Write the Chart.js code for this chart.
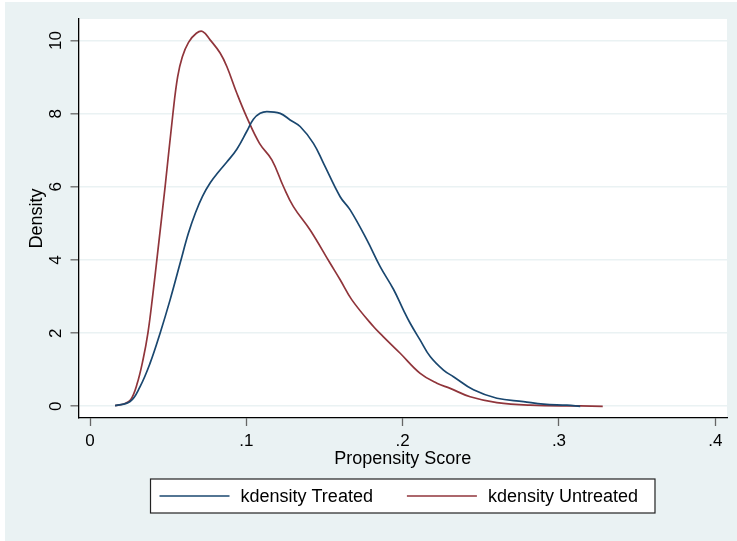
<!DOCTYPE html>
<html lang="en">

<head>
    <meta charset="UTF-8">
    <title>Propensity Score - kdensity</title>
    <script src="https://cdn.jsdelivr.net/npm/chart.js"></script>
</head>
<style>
    body {
        margin: 0;
        background-color: #FFFFFF;
    }

    canvas {
        display: block;
    }
</style>

<body>
    <canvas id="densityCanvas" width="737" height="541"></canvas>
</body>

</html>

<script>
    // kdensity do grupo tratado (x = propensity score, y = densidade)
    const treatedX = [0.016, 0.0256, 0.032, 0.0384, 0.0448, 0.0512, 0.0576, 0.0629, 0.0675, 0.072,
        0.077, 0.082, 0.0875, 0.0939, 0.1003, 0.1045, 0.1088, 0.1131, 0.1216, 0.128,
        0.1344, 0.1429, 0.1493, 0.16, 0.1664, 0.1771, 0.1856, 0.1941, 0.2005, 0.2048,
        0.2112, 0.2176, 0.2261, 0.2325, 0.2453, 0.2603, 0.2773, 0.2901, 0.3051, 0.3136];
    const treatedY = [0.02, 0.13, 0.54, 1.18, 2.0, 2.91, 3.91, 4.73, 5.3, 5.75,
        6.12, 6.4, 6.68, 7.03, 7.52, 7.85, 8.01, 8.06, 8.01, 7.83,
        7.65, 7.19, 6.65, 5.73, 5.37, 4.55, 3.82, 3.2, 2.63, 2.27,
        1.81, 1.36, 0.99, 0.81, 0.45, 0.22, 0.13, 0.06, 0.03, 0.0];

    // kdensity do grupo não tratado
    const untreatedX = [0.016, 0.022, 0.026, 0.03, 0.034, 0.037, 0.04, 0.0435, 0.048, 0.053,
        0.056, 0.059, 0.063, 0.068, 0.072, 0.0768, 0.0832, 0.0875, 0.0939, 0.1003,
        0.1084, 0.1163, 0.1237, 0.1301, 0.1408, 0.1536, 0.16, 0.1675, 0.1813, 0.1877,
        0.1984, 0.2112, 0.2219, 0.2304, 0.2432, 0.2603, 0.2816, 0.3136, 0.328];
    const untreatedY = [0.02, 0.07, 0.18, 0.6, 1.3, 2.0, 3.0, 4.3, 6.0, 8.0,
        9.0, 9.55, 9.95, 10.2, 10.25, 10.02, 9.66, 9.29, 8.56, 7.9,
        7.19, 6.74, 6.01, 5.46, 4.82, 3.91, 3.46, 2.91, 2.18, 1.9,
        1.45, 0.9, 0.63, 0.49, 0.26, 0.1, 0.03, 0.01, 0.0];

    const seriesLabels = ['kdensity Treated', 'kdensity Untreated'];
    const xTicks = [0, 0.1, 0.2, 0.3, 0.4];
    const yTicks = [0, 2, 4, 6, 8, 10];

    const FONT = 'Liberation Sans, Arial, sans-serif';

    function pontos(xs, ys) {
        return xs.map(function (x, i) { return { x: x, y: ys[i] }; });
    }

    // fundo estilo stata: moldura cinza-azulada e área do gráfico branca
    const fundo = {
        id: 'fundo',
        beforeDraw(chart) {
            const ctx = chart.ctx;
            const a = chart.chartArea;
            ctx.save();
            ctx.fillStyle = '#FFFFFF';
            ctx.fillRect(0, 0, chart.width, chart.height);
            ctx.fillStyle = '#EAF2F3';
            ctx.fillRect(5, 2, chart.width - 5, chart.height - 2);
            ctx.fillStyle = '#FFFFFF';
            ctx.fillRect(a.left, a.top, a.right - a.left, a.bottom - a.top);
            ctx.restore();
        }
    };

    // legenda com caixa, abaixo do título do eixo x
    const legendaCaixa = {
        id: 'legendaCaixa',
        afterDraw(chart) {
            const ctx = chart.ctx;
            const a = chart.chartArea;
            const sets = chart.data.datasets;
            ctx.save();
            ctx.font = '18px ' + FONT;
            const amostra = 70, gapTexto = 11, gapItem = 34, padE = 9, padD = 17;
            let largura = padE + padD;
            sets.forEach(function (ds, i) {
                largura += amostra + gapTexto + ctx.measureText(ds.label).width;
                if (i < sets.length - 1) largura += gapItem;
            });
            const altura = 34;
            const esq = (a.left + a.right) / 2 - largura / 2;
            const topo = a.bottom + 61;
            ctx.fillStyle = '#FFFFFF';
            ctx.fillRect(esq, topo, largura, altura);
            ctx.strokeStyle = '#222222';
            ctx.lineWidth = 1.2;
            ctx.strokeRect(esq, topo, largura, altura);
            const cy = topo + altura / 2;
            let x = esq + padE;
            sets.forEach(function (ds) {
                ctx.strokeStyle = ds.borderColor;
                ctx.lineWidth = ds.borderWidth;
                ctx.beginPath();
                ctx.moveTo(x, cy);
                ctx.lineTo(x + amostra, cy);
                ctx.stroke();
                x += amostra + gapTexto;
                ctx.fillStyle = '#000000';
                ctx.textBaseline = 'middle';
                ctx.textAlign = 'left';
                ctx.fillText(ds.label, x, cy + 1);
                x += ctx.measureText(ds.label).width + gapItem;
            });
            ctx.restore();
        }
    };

    const dados = {
        datasets: [{
            label: seriesLabels[0],
            data: pontos(treatedX, treatedY),
            borderColor: '#1A476F',
            borderWidth: 1.7,
            fill: false,
            pointRadius: 0,
            tension: 0.4
        }, {
            label: seriesLabels[1],
            data: pontos(untreatedX, untreatedY),
            borderColor: '#90353B',
            borderWidth: 1.7,
            fill: false,
            pointRadius: 0,
            tension: 0.4
        }]
    };

    const config = {
        type: 'line',
        data: dados,
        options: {
            responsive: false,
            animation: false,
            layout: { padding: { top: 19, right: 10, bottom: 71, left: 0 } },
            plugins: {
                legend: { display: false },
                tooltip: { enabled: false }
            },
            scales: {
                x: {
                    type: 'linear',
                    min: -0.0074,
                    max: 0.4075,
                    afterBuildTicks: function (s) { s.ticks = xTicks.map(function (v) { return { value: v }; }); },
                    afterFit: function (s) { s.height = 52; },
                    ticks: {
                        padding: 5,
                        color: '#000000',
                        font: { family: FONT, size: 17 },
                        maxRotation: 0,
                        callback: function (v) { return v === 0 ? '0' : String(v).replace(/^0/, ''); }
                    },
                    grid: { display: true, drawOnChartArea: false, tickLength: 8, tickColor: '#666666', tickWidth: 1.3 },
                    border: { display: true, color: '#000000', width: 1.3 },
                    title: {
                        display: true,
                        text: 'Propensity Score',
                        color: '#000000',
                        padding: 0,
                        font: { family: FONT, size: 18 }
                    }
                },
                y: {
                    min: -0.32,
                    max: 10.59,
                    afterBuildTicks: function (s) { s.ticks = yTicks.map(function (v) { return { value: v }; }); },
                    afterFit: function (s) { s.width = 78.5; },
                    ticks: {
                        padding: 5,
                        color: '#000000',
                        minRotation: 90,
                        maxRotation: 90,
                        crossAlign: 'center',
                        font: { family: FONT, size: 17 }
                    },
                    grid: { color: '#EAF2F3', lineWidth: 1.6, tickLength: 8, tickColor: '#666666', tickWidth: 1.3 },
                    border: { display: true, color: '#000000', width: 1.3 },
                    title: {
                        display: true,
                        text: 'Density',
                        color: '#000000',
                        padding: { top: 26, bottom: 0 },
                        font: { family: FONT, size: 18 }
                    }
                }
            }
        },
        plugins: [fundo, legendaCaixa]
    };

    let grafico = new Chart(document.getElementById('densityCanvas'), config);
</script>
